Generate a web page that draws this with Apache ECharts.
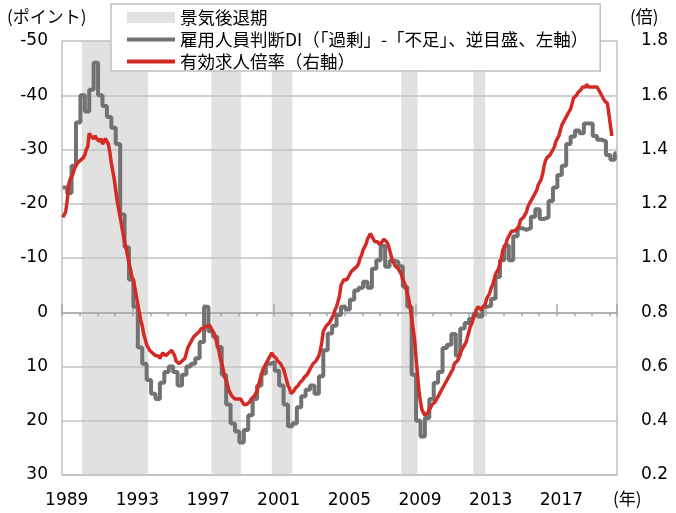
<!DOCTYPE html>
<html>
<head>
<meta charset="utf-8">
<script src="https://cdn.jsdelivr.net/npm/echarts@6/dist/echarts.min.js"></script>
<style>
    html, body { margin: 0; padding: 0; background: #fff; }
    #labor-chart { width: 676px; height: 513px; }
</style>
</head>
<body>
<div id="labor-chart"></div>
<script>
    // 月次カテゴリ (1989/1 - 2020/5)
    const months = []
    for (let y = 1989; y <= 2020; y++) {
        for (let m = 1; m <= 12; m++) {
            if (y === 2020 && m > 5) break
            months.push(y + '/' + m)
        }
    }

    // 景気後退期 (始, 終)
    const recessions = [
        ['1990/2', '1993/11'],
        ['1997/6', '1999/2'],
        ['2000/11', '2002/1'],
        ['2008/3', '2009/2'],
        ['2012/4', '2012/12'],
    ]

    // 雇用人員判断DI 四半期 (1989Q1 - 2020Q2)
    const employmentDI = [
        -23, -22, -27, -35,
        -40, -37, -41, -46,
        -40, -38, -36, -34,
        -31, -18, -12, -6,
        -1, 6.5, 9.5, 12.5,
        15, 16, 13, 11,
        10, 11, 13.5, 11.5,
        10, 9.5, 8.5, 5.5,
        -1, 3.5, 4.5, 6.4,
        11.5, 17, 20.5, 22,
        24, 21.7, 19, 16,
        13.5, 11.3, 9.5, 9.2,
        10.8, 13.5, 17, 21,
        20.5, 17.5, 15.5, 14.3,
        13.5, 15, 11.8, 7,
        3.9, 2.5, 0.5, -1,
        -0.5, -2.3, -4, -4.5,
        -5.6, -4.5, -8, -9.6,
        -12.2, -8.4, -9.5, -9.3,
        -8.5, -4.7, -1, 11.5,
        20, 22.9, 19.5, 16,
        13, 11, 6.6, 6,
        4, 8, 3, 2,
        1.2, 0.3, 0.8, -1,
        -1.2, -2.5, -6.5, -9.6,
        -12.3, -9.6, -14, -15.5,
        -15.2, -15.5, -17.6, -19,
        -17.2, -17.5, -20.5, -23,
        -25.3, -27, -31, -32.4,
        -33.5, -33, -34.8, -34.8,
        -32.5, -31.8, -31.5, -29,
        -28.1, -29.3,
    ]

    // 有効求人倍率 月次 (1989/1 - 2020/2)
    const jobRatio = [
        1.15, 1.16, 1.17, 1.21, 1.27, 1.29, 1.30, 1.31, 1.33, 1.34, 1.35, 1.35,
        1.36, 1.36, 1.37, 1.38, 1.40, 1.41, 1.46, 1.45, 1.45, 1.44, 1.45, 1.44,
        1.44, 1.43, 1.44, 1.42, 1.43, 1.44, 1.44, 1.42, 1.39, 1.35, 1.32, 1.29,
        1.25, 1.21, 1.18, 1.15, 1.12, 1.09, 1.06, 1.04, 1.01, 0.98, 0.96, 0.93,
        0.92, 0.89, 0.86, 0.83, 0.80, 0.77, 0.75, 0.72, 0.70, 0.68, 0.67, 0.66,
        0.66, 0.65, 0.65, 0.64, 0.64, 0.64, 0.63, 0.64, 0.65, 0.65, 0.64, 0.64,
        0.65, 0.65, 0.66, 0.66, 0.64, 0.62, 0.62, 0.61, 0.61, 0.62, 0.62, 0.63,
        0.65, 0.67, 0.68, 0.69, 0.70, 0.71, 0.71, 0.72, 0.72, 0.73, 0.74, 0.74,
        0.74, 0.74, 0.75, 0.75, 0.75, 0.74, 0.73, 0.72, 0.70, 0.68, 0.66, 0.63,
        0.61, 0.59, 0.56, 0.55, 0.53, 0.51, 0.50, 0.49, 0.49, 0.48, 0.48, 0.48,
        0.48, 0.48, 0.47, 0.46, 0.46, 0.46, 0.46, 0.47, 0.48, 0.48, 0.49, 0.50,
        0.51, 0.53, 0.55, 0.57, 0.59, 0.60, 0.61, 0.62, 0.63, 0.64, 0.65, 0.64,
        0.64, 0.63, 0.62, 0.62, 0.61, 0.60, 0.59, 0.57, 0.55, 0.53, 0.52, 0.50,
        0.50, 0.51, 0.52, 0.52, 0.53, 0.54, 0.54, 0.55, 0.56, 0.56, 0.57, 0.58,
        0.59, 0.60, 0.61, 0.61, 0.62, 0.63, 0.64, 0.66, 0.69, 0.73, 0.74, 0.75,
        0.75, 0.76, 0.77, 0.78, 0.79, 0.81, 0.82, 0.84, 0.86, 0.90, 0.91, 0.92,
        0.92, 0.92, 0.93, 0.94, 0.95, 0.95, 0.96, 0.96, 0.97, 0.98, 1.00, 1.01,
        1.03, 1.04, 1.05, 1.07, 1.08, 1.09, 1.08, 1.07, 1.06, 1.06, 1.06, 1.05,
        1.05, 1.06, 1.07, 1.07, 1.06, 1.05, 1.03, 1.01, 0.99, 0.98, 0.97, 0.97,
        0.96, 0.95, 0.94, 0.92, 0.91, 0.89, 0.87, 0.85, 0.82, 0.78, 0.74, 0.70,
        0.63, 0.57, 0.51, 0.47, 0.44, 0.43, 0.42, 0.42, 0.43, 0.44, 0.45, 0.46,
        0.46, 0.47, 0.48, 0.49, 0.50, 0.51, 0.52, 0.53, 0.54, 0.55, 0.56, 0.57,
        0.58, 0.59, 0.61, 0.61, 0.62, 0.63, 0.65, 0.66, 0.67, 0.68, 0.69, 0.71,
        0.73, 0.75, 0.76, 0.78, 0.79, 0.81, 0.82, 0.82, 0.81, 0.81, 0.82, 0.83,
        0.85, 0.86, 0.87, 0.89, 0.90, 0.92, 0.94, 0.95, 0.96, 0.98, 1.00, 1.03,
        1.04, 1.05, 1.07, 1.08, 1.09, 1.10, 1.10, 1.10, 1.10, 1.11, 1.12, 1.14,
        1.14, 1.15, 1.16, 1.17, 1.19, 1.19, 1.21, 1.22, 1.23, 1.24, 1.25, 1.27,
        1.28, 1.29, 1.31, 1.34, 1.36, 1.37, 1.37, 1.38, 1.39, 1.40, 1.41, 1.43,
        1.44, 1.45, 1.47, 1.49, 1.50, 1.51, 1.52, 1.53, 1.54, 1.55, 1.57, 1.59,
        1.59, 1.60, 1.61, 1.61, 1.62, 1.63, 1.63, 1.63, 1.64, 1.63, 1.63, 1.63,
        1.63, 1.63, 1.63, 1.63, 1.62, 1.61, 1.60, 1.59, 1.58, 1.58, 1.57, 1.57,
        1.49, 1.45,
    ]

    const recessionName = '景気後退期'
    const diName = '雇用人員判断DI（「過剰」-「不足」、逆目盛、左軸）'
    const ratioName = '有効求人倍率（右軸）'

    // 四半期の値を各四半期の最初の月に置く
    let diData = employmentDI.map((v, i) => [i * 3, v])
    diData.push([months.length - 1, employmentDI[employmentDI.length - 1]])

    const numFont = 'DejaVu Sans'
    const jpFont = 'Noto Sans CJK JP'
    const gridColor = '#c0c0c0'
    const lineIcon = 'path://M0,0L120,0L120,10L0,10Z'

    let chart = echarts.init(document.getElementById('labor-chart'))
    let options = {
        animation: false,
        grid: {
            left: 62,
            right: 59,
            top: 41,
            bottom: 38,
            containLabel: false
        },
        legend: {
            orient: 'vertical',
            left: 111,
            top: 4,
            itemWidth: 48,
            itemHeight: 11,
            itemGap: 3,
            padding: [4, 12, 0, 16],
            backgroundColor: '#fff',
            borderColor: gridColor,
            borderWidth: 1.5,
            textStyle: {
                fontFamily: jpFont,
                fontSize: 17.5,
                lineHeight: 19,
                color: '#000'
            },
            data: [
                {name: recessionName, icon: 'rect'},
                {name: diName, icon: lineIcon},
                {name: ratioName, icon: lineIcon}
            ]
        },
        graphic: [
            {type: 'text', left: 7, top: 8, style: {text: '(ポイント)', font: '17px "Noto Sans CJK JP"', fill: '#000'}},
            {type: 'text', left: 630, top: 8, style: {text: '(倍)', font: '17px "Noto Sans CJK JP"', fill: '#000'}},
            {type: 'text', left: 613, top: 490, style: {text: '(年)', font: '17px "Noto Sans CJK JP"', fill: '#000'}}
        ],
        xAxis: [
            {
                type: 'category',
                data: months,
                boundaryGap: true,
                axisLine: {show: true, onZero: false, lineStyle: {color: gridColor, width: 1.5}},
                axisTick: {show: false},
                axisLabel: {
                    interval: 47,
                    formatter: (v) => v.split('/')[0],
                    fontFamily: numFont,
                    fontSize: 17,
                    color: '#000',
                    margin: 17,
                    padding: [0, 0, 0, 8]
                },
                splitLine: {show: false}
            },
            {
                // 0 ライン (年ごとの目盛)
                type: 'category',
                data: months,
                boundaryGap: true,
                position: 'bottom',
                z: 1.5,
                axisLine: {show: true, onZero: true, onZeroAxisIndex: 0, lineStyle: {color: '#a6a6a6', width: 1.5}},
                axisTick: {show: true, interval: 11, length: 4, lineStyle: {color: '#a6a6a6', width: 1.5}},
                axisLabel: {show: false},
                splitLine: {show: false}
            },
            {
                // 0 ライン (4年ごとの目盛)
                type: 'category',
                data: months,
                boundaryGap: true,
                position: 'bottom',
                z: 1.5,
                axisLine: {show: false, onZero: true, onZeroAxisIndex: 0},
                axisTick: {show: true, inside: true, interval: 47, length: 8, lineStyle: {color: '#a6a6a6', width: 1.5}},
                axisLabel: {show: false},
                splitLine: {show: false}
            }
        ],
        yAxis: [
            {
                type: 'value',
                inverse: true,
                min: -50,
                max: 30,
                interval: 10,
                z: 1.5,
                axisLine: {show: true, lineStyle: {color: gridColor, width: 1.5}},
                axisTick: {show: false},
                axisLabel: {fontFamily: numFont, fontSize: 17, color: '#000', margin: 14},
                splitLine: {show: true, lineStyle: {color: gridColor, width: 1.5}}
            },
            {
                type: 'value',
                position: 'right',
                min: 0.2,
                max: 1.8,
                interval: 0.2,
                z: 1.5,
                axisLine: {show: true, lineStyle: {color: gridColor, width: 1.5}},
                axisTick: {show: false},
                axisLabel: {
                    fontFamily: numFont,
                    fontSize: 17,
                    color: '#000',
                    margin: 24,
                    formatter: (v) => v.toFixed(1)
                },
                splitLine: {show: false}
            }
        ],
        series: [
            {
                name: recessionName,
                type: 'line',
                data: [],
                color: '#e1e1e1',
                markArea: {
                    silent: true,
                    itemStyle: {color: '#e1e1e1'},
                    data: recessions.map(r => [{xAxis: r[0]}, {xAxis: r[1]}])
                }
            },
            {
                name: diName,
                type: 'line',
                yAxisIndex: 0,
                step: 'end',
                symbol: 'none',
                color: '#727272',
                lineStyle: {color: '#727272', width: 4},
                data: diData
            },
            {
                name: ratioName,
                type: 'line',
                yAxisIndex: 1,
                symbol: 'none',
                color: '#d42a26',
                lineStyle: {color: '#d42a26', width: 3.5},
                data: jobRatio
            }
        ]
    }
    chart.setOption(options)
</script>
</body>
</html>
